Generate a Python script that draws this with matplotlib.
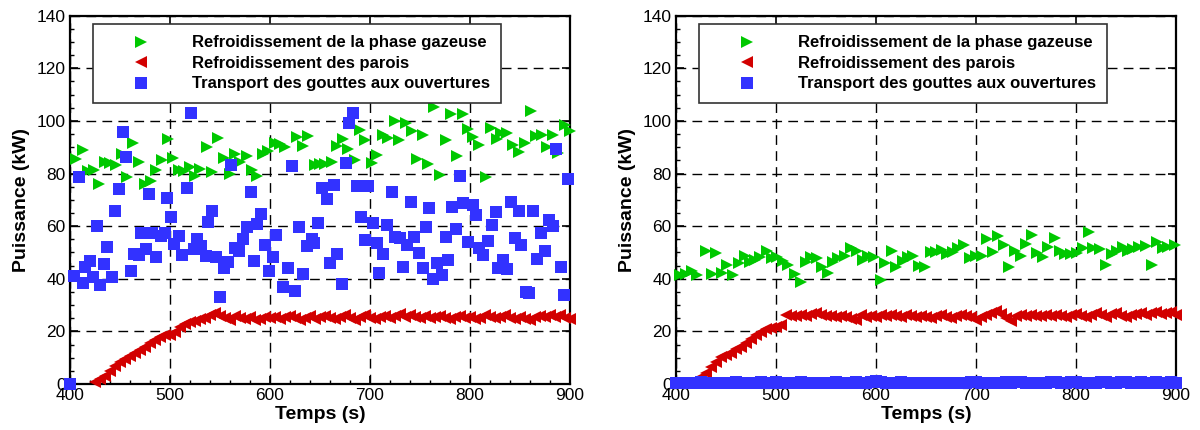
import matplotlib.pyplot as plt
from matplotlib.ticker import MultipleLocator

plt.rcParams['font.family'] = ['Liberation Sans', 'DejaVu Sans']

LABELS = ['Refroidissement de la phase gazeuse',
          'Refroidissement des parois',
          'Transport des gouttes aux ouvertures']
GREEN = '#00c800'
RED = '#d20000'
BLUE = '#3232ff'

# ---- left panel ----
gaz_t_a = [406, 413, 418, 424, 429, 435, 440, 446, 452, 457, 463, 469, 475, 481, 486,
           492, 498, 503, 509, 514, 520, 525, 530, 537, 542, 548, 554, 560, 565, 570,
           577, 582, 587, 593, 598, 605, 610, 615, 627, 633, 638, 645, 650, 655, 662,
           667, 673, 678, 685, 690, 695, 702, 707, 713, 718, 725, 729, 736, 742, 747,
           753, 758, 764, 770, 776, 781, 787, 793, 798, 803, 809, 816, 821, 827, 831,
           837, 843, 849, 855, 861, 866, 872, 877, 883, 888, 895, 900]
gaz_p_a = [85.4, 89, 81.1, 81.4, 76, 84.2, 83.9, 83.1, 87.5, 78.8, 91.8, 84.2, 76, 77, 81.4,
           85.2, 93, 86, 81.4, 80.9, 82.6, 79, 81.6, 90.2, 80.6, 93.5, 85.8, 80, 87.5, 84.5,
           86.7, 81.4, 79, 87.5, 88.7, 91.8, 91.3, 90.2, 94, 90.5, 94.3, 83.3, 83.7, 83.7, 84.2,
           90.5, 93, 89.2, 85, 96.6, 92.8, 83.9, 87, 94.7, 93.4, 100.1, 92.8, 99.4, 96.3, 85.4,
           94.7, 83.7, 105.2, 79.5, 92.8, 102.7, 86.7, 102.7, 96.8, 93.8, 90.9, 78.6, 97.2, 93, 95.6,
           95.6, 90.9, 88, 91.8, 103.9, 94.3, 94.7, 90.2, 94.7, 87.7, 98.5, 96.3]

gout_t_a = [400, 404, 409, 413, 415, 420, 423, 427, 430, 434, 437, 442, 445, 449, 453,
            456, 461, 464, 469, 471, 476, 479, 482, 486, 491, 495, 497, 501, 504, 509,
            512, 517, 521, 524, 527, 531, 536, 538, 542, 546, 550, 554, 558, 561, 565,
            569, 573, 577, 581, 584, 587, 591, 595, 599, 603, 606, 613, 618, 622, 625,
            629, 633, 637, 642, 644, 648, 652, 657, 660, 664, 667, 672, 676, 679, 683,
            687, 691, 695, 698, 703, 707, 709, 713, 717, 722, 725, 730, 733, 737, 741,
            744, 749, 753, 756, 759, 763, 767, 772, 776, 778, 782, 786, 790, 793, 798,
            803, 806, 809, 813, 818, 822, 826, 828, 833, 837, 841, 845, 849, 851, 856,
            859, 863, 867, 871, 875, 879, 883, 886, 891, 894, 898]
gout_p_a = [0, 41, 78.8, 38.5, 44.6, 46.9, 40.6, 60, 37.5, 45.6, 52.2, 40.6, 65.9, 74, 95.8,
            86.2, 43, 49.4, 49.2, 57.5, 51.2, 72.2, 57.3, 48.2, 56.3, 57.3, 70.7, 63.4, 53.2, 56.3,
            48.9, 74.5, 103.2, 51.5, 55, 52.5, 48.7, 61.6, 65.7, 48.2, 33, 44.1, 46.4, 83.4, 51.7,
            50.4, 55, 59.6, 72.8, 46.6, 60.8, 64.6, 53, 42.8, 48.2, 56.5, 36.8, 44, 82.9, 35.4,
            59.8, 41.8, 52.5, 55, 53.7, 61.1, 74.4, 70.2, 46.1, 75.7, 49.4, 37.9, 83.9, 99.1, 103.2,
            75.3, 63.6, 54.8, 75.3, 61.3, 53.5, 42.3, 49.4, 60.5, 73.1, 56, 55.4, 44.6, 52.9, 69.3,
            56, 49.7, 44, 59.8, 66.8, 39.8, 45.9, 41.4, 56, 47.1, 67.4, 59.1, 79.1, 68.7, 54,
            68, 64.3, 51.6, 49, 54.5, 60.3, 65.4, 44, 47.1, 43.6, 69.2, 55.5, 65.9, 52.9, 35,
            34.5, 65.8, 47.4, 57.3, 50.7, 62.4, 60.1, 89.2, 44.6, 33.7, 77.8]

# wall cooling, sampled every 5 s (both cases)
paroi_t = [425, 430, 435, 440, 445, 450, 455, 460, 465, 470, 475, 480, 485, 490, 495,
           500, 505, 510, 515, 520, 525, 530, 535, 540, 545, 550, 555, 560, 565, 570,
           575, 580, 585, 590, 595, 600, 605, 610, 615, 620, 625, 630, 635, 640, 645,
           650, 655, 660, 665, 670, 675, 680, 685, 690, 695, 700, 705, 710, 715, 720,
           725, 730, 735, 740, 745, 750, 755, 760, 765, 770, 775, 780, 785, 790, 795,
           800, 805, 810, 815, 820, 825, 830, 835, 840, 845, 850, 855, 860, 865, 870,
           875, 880, 885, 890, 895, 900]
paroi_p_a = [0.9, 2.0, 3.2, 5.0, 6.8, 8.2, 9.4, 10.6, 11.7, 12.9, 14.2, 15.5, 16.7, 17.7, 18.6,
             18.5, 19.9, 21.8, 22.8, 23.7, 24.1, 24.6, 25.0, 26.2, 26.9,
             25.8, 25.0, 24.5, 26.0, 25.2, 24.6, 25.3, 24.2, 24.8, 25.4,
             25.0, 25.6, 24.8, 25.3, 25.8, 25.0, 24.5, 25.2, 25.8, 24.6,
             25.3, 26.0, 25.2, 24.7, 25.5, 26.1, 24.9, 24.4, 25.4, 26.2,
             25.0, 24.6, 25.4, 26.0, 25.2, 25.8, 26.6, 25.3, 26.2, 25.6,
             25.0, 25.8, 24.9, 25.5, 26.0, 25.2, 24.7, 25.4, 25.9, 25.0,
             25.6, 24.6, 25.2, 26.3, 25.6, 25.0, 25.6, 26.1, 25.2, 24.7,
             25.5, 24.8, 24.3, 25.5, 26.0, 25.4, 26.2, 25.6, 26.4, 25.0, 24.6]

# ---- right panel ----
gaz_t_b = [404, 410, 416, 421, 430, 436, 440, 446, 451, 457, 463, 469, 474, 479, 484,
           491, 496, 501, 507, 512, 519, 525, 530, 535, 541, 546, 552, 557, 562, 569,
           575, 581, 587, 592, 598, 605, 609, 616, 620, 627, 632, 637, 643, 649, 655,
           660, 666, 671, 677, 682, 688, 694, 700, 706, 711, 717, 722, 728, 733, 739,
           745, 750, 756, 761, 767, 772, 779, 784, 789, 795, 801, 807, 813, 817, 824,
           830, 836, 841, 847, 852, 857, 863, 870, 876, 881, 887, 892, 899]
gaz_p_b = [41.4, 42, 43, 41.4, 50.7, 41.8, 49.9, 42.3, 45.2, 41.4, 46.1, 48.7, 46.5, 47.1, 48.4,
           50.7, 47.8, 48.4, 46.9, 45.2, 41.8, 38.9, 46.5, 48.4, 47.8, 44.6, 42.3, 46.5, 47.8, 48.7,
           51.6, 50.7, 47.1, 48.7, 48.4, 39.5, 45.9, 50.7, 44.4, 46.9, 48.2, 48.7, 44.9, 44.4, 50.3,
           50.3, 51, 49.4, 50.3, 51.6, 52.9, 47.8, 48.7, 48.7, 55.1, 50.2, 56.3, 52.9, 44.4, 50.7,
           48.7, 53.2, 56.7, 49.7, 48.2, 52.2, 55.5, 50.7, 49.4, 49.4, 49.9, 51.6, 57.9, 51.6, 51.2,
           45.2, 49.4, 50.7, 52.2, 50.7, 51.2, 52, 52.5, 45.2, 54.1, 51.6, 52, 52.9]

paroi_p_b = [2.5, 4.3, 6.6, 8.5, 10.1, 11.0, 11.9, 13.2, 14.2, 15.4, 17.0, 18.6, 19.9, 20.8, 21.2,
             21.8, 22.4,
             26.2, 26.0, 25.8, 26.3, 25.9, 26.5, 27.0, 26.1, 25.7, 26.0,
             25.5, 25.9, 25.4, 24.8, 24.3, 26.4, 25.6, 25.8, 25.5, 26.2,
             25.7, 26.3, 26.0, 25.6, 26.1, 25.8, 25.5, 26.0, 25.6, 25.2,
             25.8, 26.3, 25.4, 25.0, 25.8, 26.4, 25.7, 25.3, 24.5, 25.6,
             26.3, 26.8, 27.8, 26.5, 25.2, 24.0, 25.8, 26.2, 25.8, 26.4,
             26.0, 25.7, 26.2, 25.8, 26.3, 26.0, 25.6, 26.2, 26.6, 26.0,
             25.5, 26.3, 26.8, 26.1, 25.4, 26.5, 27.0, 25.8, 25.3, 26.2,
             26.7, 27.1, 26.3, 26.8, 27.3, 26.5, 26.9, 27.2, 26.4]

gout_t_b = [400, 405, 410, 415, 420, 425, 430, 435, 440, 445, 450, 455, 460, 465, 470,
            475, 480, 485, 490, 495, 500, 505, 510, 515, 520, 525, 530, 535, 540, 545,
            550, 555, 560, 565, 570, 575, 580, 585, 590, 595, 600, 605, 610, 615, 620,
            625, 630, 635, 640, 645, 650, 655, 660, 665, 670, 675, 680, 685, 690, 695,
            700, 705, 710, 715, 720, 725, 730, 735, 740, 745, 750, 755, 760, 765, 770,
            775, 780, 785, 790, 795, 800, 805, 810, 815, 820, 825, 830, 835, 840, 845,
            850, 855, 860, 865, 870, 875, 880, 885, 890, 895, 900]
gout_p_b = [0.3, 0.4, 0.5, 0.3, 0.4, 0.6, 0.4, 0.3, 0.5, 0.4,
            0.3, 0.5, 0.6, 0.4, 0.3, 0.4, 0.5, 0.6, 0.5, 0.4,
            0.6, 0.5, 0.4, 0.3, 0.5, 0.6, 0.4, 0.3, 0.4, 0.5,
            0.4, 0.5, 0.6, 0.4, 0.3, 0.5, 0.7, 0.5, 0.4, 0.7,
            1.2, 0.6, 0.4, 0.3, 0.5, 0.6, 0.4, 0.3, 0.4, 0.5,
            0.3, 0.4, 0.5, 0.4, 0.3, 0.4, 0.5, 0.4, 0.3, 0.6,
            0.8, 0.5, 0.4, 0.3, 0.4, 0.5, 0.6, 0.4, 0.7, 0.8,
            0.5, 0.4, 0.3, 0.5, 0.4, 0.6, 0.7, 0.5, 0.4, 0.6,
            0.8, 0.5, 0.4, 0.3, 0.5, 0.7, 0.6, 0.4, 0.5, 0.8,
            0.6, 0.4, 0.5, 0.7, 0.5, 0.4, 0.6, 0.5, 0.4, 0.6,
            0.5]


def draw_panel(ax, gt, gp, rt, rp, bt, bp):
    ax.plot(gt, gp, '>', color=GREEN, ms=9, ls='none', mew=0, clip_on=False, zorder=3, label=LABELS[0])
    ax.plot(rt, rp, '<', color=RED, ms=9, ls='none', mew=0, clip_on=False, zorder=3, label=LABELS[1])
    ax.plot(bt, bp, 's', color=BLUE, ms=8.3, ls='none', mew=0, clip_on=False, zorder=3, label=LABELS[2])

    ax.set_xlim(400, 900)
    ax.set_ylim(0, 140)
    ax.set_xticks(range(400, 901, 100))
    ax.set_yticks(range(0, 141, 20))
    ax.xaxis.set_minor_locator(MultipleLocator(20))
    ax.yaxis.set_minor_locator(MultipleLocator(5))
    ax.set_axisbelow(True)
    ax.grid(True, which='major', ls=(0, (7, 4.5)), color='black', lw=1)
    ax.tick_params(which='major', direction='in', length=5.5, width=1.2,
                   top=True, right=True, labelsize=12.5, pad=3)
    ax.tick_params(which='minor', direction='in', length=3, width=1,
                   top=False, right=False)
    for sp in ax.spines.values():
        sp.set_linewidth(1.6)

    ax.set_xlabel('Temps (s)', fontsize=14, fontweight='bold', labelpad=2)
    ax.set_ylabel('Puissance (kW)', fontsize=14, fontweight='bold', labelpad=5)

    leg = ax.legend(loc='upper left', bbox_to_anchor=(0.0454, 0.763, 0.8156, 0.2145),
                    mode='expand', borderaxespad=0, numpoints=1, fancybox=False,
                    framealpha=1, edgecolor='#333333', prop={'weight': 'bold', 'size': 12},
                    handlelength=4.38, handletextpad=0.89, borderpad=0.69, labelspacing=0.33)
    leg.get_frame().set_linewidth(1.2)


fig = plt.figure(figsize=(12, 4.3), dpi=100)
ax1 = fig.add_axes([70 / 1200, 46 / 430, 500 / 1200, 368.3 / 430])
ax2 = fig.add_axes([676 / 1200, 46 / 430, 500 / 1200, 368.3 / 430])

draw_panel(ax1, gaz_t_a, gaz_p_a, paroi_t, paroi_p_a, gout_t_a, gout_p_a)
draw_panel(ax2, gaz_t_b, gaz_p_b, paroi_t, paroi_p_b, gout_t_b, gout_p_b)

fig.savefig('out.png', dpi=100)
